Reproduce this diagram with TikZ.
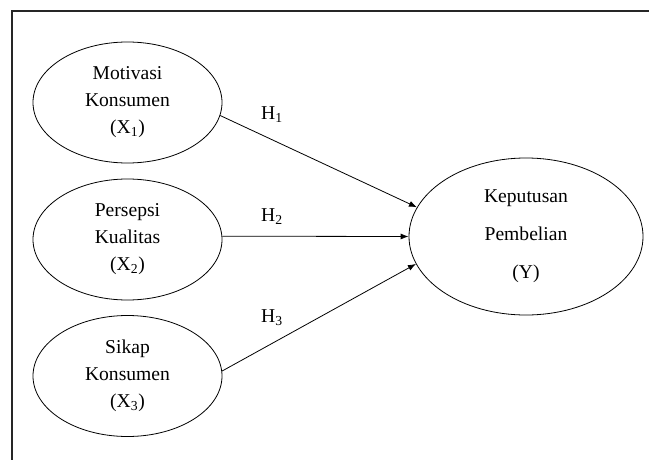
\documentclass[tikz,border=0pt]{standalone}
\usepackage{fontspec}
\setmainfont{Liberation Serif}
\usetikzlibrary{arrows.meta,shapes.geometric}
\begin{document}
\begin{tikzpicture}[x=0.75pt,y=-0.75pt,
  var/.style={draw, ellipse, line width=0.6pt, inner sep=0pt, align=center,
    minimum width=141.75pt, minimum height=90.75pt,
    font=\fontsize{14.7pt}{20.25pt}\selectfont},
  dep/.style={draw, ellipse, line width=0.6pt, inner sep=0pt, align=center,
    minimum width=175.5pt, minimum height=117.75pt,
    font=\fontsize{14.7pt}{28.5pt}\selectfont},
  hyp/.style={font=\fontsize{14.7pt}{17pt}\selectfont, inner sep=0pt},
  path/.style={line width=0.6pt, -{Latex[length=6pt,width=4.5pt]}},
  frame/.style={line width=1.1pt, draw=black!85}]
\useasboundingbox (0,0) rectangle (649,460);
\draw[frame] (12,460) -- (12,11) -- (649,11);
\node[var] (m1) at (127.5,102.5) {Motivasi\\Konsumen\\(X\textsubscript{1})};
\node[var] (m2) at (127.5,239.5) {Persepsi\\Kualitas\\(X\textsubscript{2})};
\node[var] (m3) at (127.5,376) {Sikap\\Konsumen\\(X\textsubscript{3})};
\node[dep] (y) at (526,236.5) {Keputusan\\Pembelian\\(Y)};
\node[hyp] (h1) at (272,115) {H\textsubscript{1}};
\node[hyp] (h2) at (272,217) {H\textsubscript{2}};
\node[hyp] (h3) at (272,318) {H\textsubscript{3}};
\draw[path] (m1.-8.4) -- (y.165.8);
\draw[path] (m2.2) -- (y.west);
\draw[path] (m3.3.6) -- (y.-166.8);
\end{tikzpicture}
\end{document}
